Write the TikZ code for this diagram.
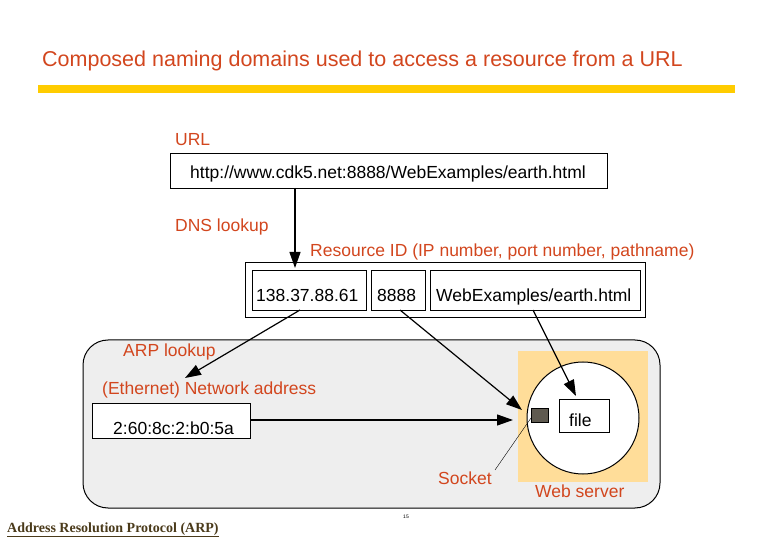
\documentclass[tikz,border=0pt]{standalone}
\usepackage{fontspec}
\setmainfont{Liberation Sans}
\newfontfamily\serifb{Liberation Serif}
\usetikzlibrary{arrows.meta}
\definecolor{tred}{HTML}{D2461E}
\definecolor{barcol}{HTML}{FFCC00}
\definecolor{gbg}{HTML}{EEEEEE}
\definecolor{obg}{HTML}{FFDD99}
\definecolor{sock}{HTML}{5F5A50}
\definecolor{brn}{HTML}{4A3A1A}
\begin{document}
\begin{tikzpicture}[x=1pt,y=-1pt,
  lab/.style={text=tred,font=\fontsize{17.5}{20}\selectfont,anchor=base west,inner sep=0},
  box/.style={draw,line width=1pt,fill=white},
  txt/.style={font=\fontsize{17.5}{20}\selectfont,anchor=base west,inner sep=0},
  arr/.style={line width=1.2pt,-{Triangle[length=16pt,width=11pt]}}]
\useasboundingbox (0,0) rectangle (780,540);
\node[text=tred,font=\fontsize{21.5}{24}\selectfont,anchor=base west,inner sep=0] (title) at (42,67) {Composed naming domains used to access a resource from a URL};
\path[fill=barcol] (38,85) rectangle (735,93);
\node[lab] (urll) at (175,146) {URL};
\node[box,minimum width=437,minimum height=35,anchor=north west] (url) at (170,153) {};
\node[txt] (urlt) at (190,179) {http://www.cdk5.net:8888/WebExamples/earth.html};
\node[lab] (dns) at (175,232) {DNS lookup};
\node[lab] (rid) at (310,257) {Resource ID (IP number, port number, pathname)};
\node[box,minimum width=400,minimum height=55,anchor=north west] (rbox) at (245,262) {};
\node[box,minimum width=114,minimum height=40,anchor=north west] (ip) at (252,270) {};
\node[box,minimum width=54,minimum height=40,anchor=north west] (port) at (371,270) {};
\node[box,minimum width=210,minimum height=40,anchor=north west] (path) at (430,270) {};
\node[txt] at (256,302) {138.37.88.61};
\node[txt] at (377,302) {8888};
\node[txt] at (436,302) {WebExamples/earth.html};
\draw[line width=1pt,fill=gbg,rounded corners=25] (83,340) rectangle (660,508);
\fill[obg] (518,351) rectangle (648,482);
\node[draw,line width=1pt,fill=white,circle,minimum size=112] (srv) at (583,418) {};
\node[box,minimum width=50,minimum height=33,anchor=north west] (file) at (559,399) {};
\node[txt] at (569,426) {file};
\node[draw,fill=sock,minimum width=17,minimum height=14,anchor=north west,inner sep=0] (sk) at (531,408) {};
\node[lab] (arpl) at (123,357) {ARP lookup};
\node[lab] (eth) at (102,395) {(Ethernet) Network address};
\node[box,minimum width=158,minimum height=35,anchor=north west] (mac) at (92,403) {};
\node[txt] at (113,434) {2:60:8c:2:b0:5a};
\node[lab] (sockl) at (438,484) {Socket};
\node[lab] (web) at (535,497) {Web server};
\coordinate (sokend) at (495,470);
\draw[thin] (531,418) -- (sokend);
\draw[arr] (295,188) -- (295,268);
\draw[arr] (300,310) -- (185,378);
\draw[arr] (250,420) -- (513,420);
\draw[arr] (400,310) -- (522,410);
\draw[arr] (533,310) -- (576,396);
\node[font=\fontsize{5}{6}\selectfont,inner sep=0] (pg) at (406,517) {15};
\node[font=\serifb\bfseries\fontsize{14}{16}\selectfont,text=brn,anchor=base west,inner sep=0] (arp) at (7,532) {\underline{Address Resolution Protocol (ARP)}};
\end{tikzpicture}
\end{document}
